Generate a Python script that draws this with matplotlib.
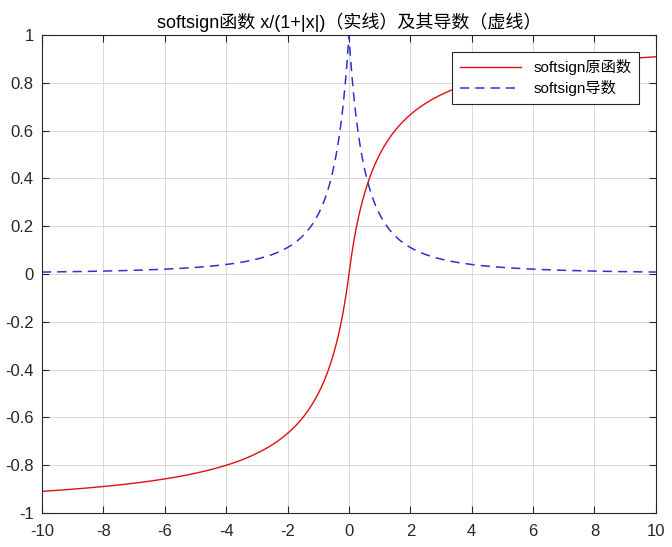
import numpy as np
import matplotlib
matplotlib.use("Agg")
import matplotlib.pyplot as plt

plt.rcParams['font.family'] = ['Liberation Sans', 'Noto Sans CJK SC']

# softsign 及其导数, x 在 [-10, 10]
x = np.linspace(-10, 10, 2001)
softsign = x / (1 + np.abs(x))
softsign_grad = 1 / (1 + np.abs(x)) ** 2

x_ticks = np.arange(-10, 11, 2)
y_ticks = np.round(np.arange(-1, 1.01, 0.2), 1)
y_labels = ['-1', '-0.8', '-0.6', '-0.4', '-0.2', '0', '0.2', '0.4', '0.6', '0.8', '1']

fig = plt.figure(figsize=(6.72, 5.47), dpi=100)
ax = fig.add_axes([0.0625, 0.062, 0.9135, 0.874])

ax.plot(x, softsign, color='#e01010', lw=1.0, label='softsign原函数')
ax.plot(x, softsign_grad, color='#3030d0', lw=1.1, ls=(0, (6, 4)), label='softsign导数')

ax.set_xlim(-10, 10)
ax.set_ylim(-1, 1)
ax.set_xticks(x_ticks)
ax.set_xticklabels([str(t) for t in x_ticks])
ax.set_yticks(y_ticks)
ax.set_yticklabels(y_labels)
ax.tick_params(direction='in', top=True, right=True, labelsize=12, length=5, width=0.8,
               colors='#262626')
ax.tick_params(axis='x', pad=8)
ax.tick_params(axis='y', pad=6)
ax.grid(True, color='#d9d9d9', lw=0.7)
for s in ax.spines.values():
    s.set_linewidth(0.8)
    s.set_color('#262626')

ax.set_title('softsign函数 x/(1+|x|)（实线）及其导数（虚线）', fontsize=13, pad=5)

leg = ax.legend(loc='upper right', fontsize=11, fancybox=False, framealpha=1,
                edgecolor='#262626', borderaxespad=1.1, handlelength=4.0,
                borderpad=0.5, labelspacing=0.3)
leg.get_frame().set_linewidth(0.8)

fig.savefig('out.png', dpi=100)
